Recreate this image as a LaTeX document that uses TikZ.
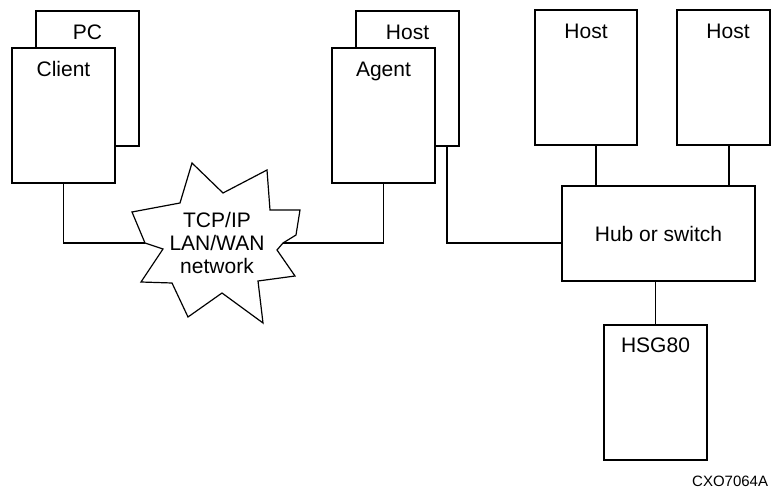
\documentclass[tikz,border=0pt]{standalone}
\usepackage{fontspec}
\setmainfont{Liberation Sans}
\usetikzlibrary{positioning, calc}

\tikzset{
  unit/.style={draw, line width=1.8pt, fill=white, inner sep=0pt,
    minimum width=103pt, minimum height=135pt},
  lbl/.style={font=\fontsize{21}{23}\selectfont, inner sep=0pt,
    text height=15pt, text depth=4pt},
  wire/.style={line width=1.2pt},
}

\begin{document}
\begin{tikzpicture}[x=1pt, y=-1pt]
    \useasboundingbox (0,0) rectangle (772,494);

    %% PC with client
    \node[unit] (pc) at (87.5,78.5) {};
    \node[lbl, below=14pt of pc.north] (pctxt) {PC};
    \node[unit] (client) at (63.5,115.5) {};
    \node[lbl, below=14pt of client.north] (clienttxt) {Client};

    %% Host with agent
    \node[unit] (host) at (407.5,78.5) {};
    \node[lbl, below=14pt of host.north] (hosttxt) {Host};
    \node[unit] (agent) at (383.5,115.5) {};
    \node[lbl, below=14pt of agent.north] (agenttxt) {Agent};

    %% Other hosts
    \node[unit, minimum width=102pt] (hostA) at (586,77.5) {};
    \node[lbl, below=14pt of hostA.north] (hostAtxt) {Host};
    \node[unit, minimum width=93pt] (hostB) at (723.5,77.5) {};
    \node[lbl, below=14pt of hostB.north, xshift=4.5pt] (hostBtxt) {Host};

    %% Hub and storage
    \node[unit, line width=1.2pt, minimum width=193pt, minimum height=95pt,
      font=\fontsize{21}{23}\selectfont] (hub) at (658.5,233.5) {Hub or switch};
    \node[unit] (hsg) at (655.5,392.5) {};
    \node[lbl, below=13pt of hsg.north] (hsgtxt) {HSG80};

    %% Network cloud
    \draw[wire, fill=white] (192,163) -- (223,193) -- (267,170) -- (270,210)
      -- (300,210) -- (296,235) -- (283,243) -- (277,250) -- (295,276)
      -- (258,281) -- (263,323) -- (222,293) -- (188,317) -- (172,283)
      -- (141,282) -- (163,249) -- (145,243) -- (132,212) -- (180,203) -- cycle;
    \node[font=\fontsize{21}{23}\selectfont, align=center, inner sep=0pt]
      (net) at (217,243) {TCP/IP\\LAN/WAN\\network};
    \coordinate (netW) at (145,243);
    \coordinate (netE) at (283,243);

    %% Connections
    \draw[wire] (client.south) |- (netW);
    \draw[wire] (netE) -| (agent.south);
    \draw[wire] ([xshift=-13pt]host.south east) |- ([yshift=-9.5pt]hub.west);
    \draw[wire] ([xshift=10pt]hostA.south) -- ([xshift=10pt]hostA.south |- hub.north);
    \draw[wire] ([xshift=5.5pt]hostB.south) -- ([xshift=5.5pt]hostB.south |- hub.north);
    \draw[wire] (hsg.north) -- (hsg.north |- hub.south);

    %% Figure id
    \node[font=\fontsize{15}{18}\selectfont, anchor=base west, inner sep=0pt]
      (figid) at (692,486) {CXO7064A};
\end{tikzpicture}
\end{document}
